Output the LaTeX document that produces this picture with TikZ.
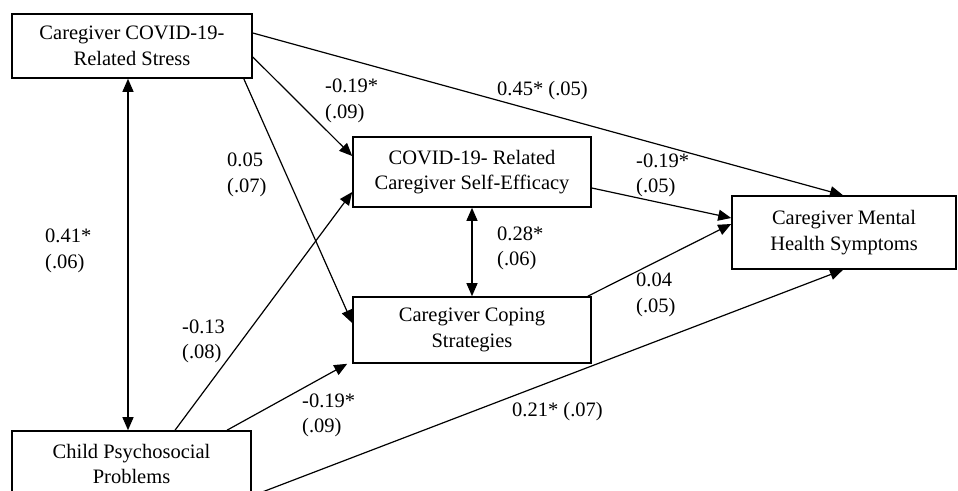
\documentclass[tikz,border=0pt]{standalone}
\usepackage{fontspec}
\setmainfont{Liberation Serif}
\usetikzlibrary{arrows.meta}

\begin{document}
\begin{tikzpicture}[x=1pt,y=-1pt,>={Triangle[length=13pt,width=11pt]},
        box/.style={draw, line width=1.6pt, align=center, inner sep=0pt,
                    font=\fontsize{20.5}{25.5}\selectfont},
        est/.style={align=left, anchor=west, inner sep=0pt,
                    font=\fontsize{20.5}{25.5}\selectfont},
        link/.style={->, line width=1.2pt},
        cov/.style={<->, line width=1.2pt}]
        \useasboundingbox (0,0) rectangle (958,490);
        \clip (0,0) rectangle (958,490);

        % variables
        \node[box, minimum width=240pt, minimum height=64pt] (stress) at (132,46)
             {Caregiver COVID-19-\\Related Stress};
        \node[box, minimum width=238pt, minimum height=70pt] (efficacy) at (472,172)
             {COVID-19- Related\\Caregiver Self-Efficacy};
        \node[box, minimum width=238pt, minimum height=66pt] (coping) at (472,330)
             {Caregiver Coping\\Strategies};
        \node[box, minimum width=224pt, minimum height=73pt] (mental) at (844,232.5)
             {Caregiver Mental\\Health Symptoms};
        \node[box, minimum width=239pt, minimum height=66pt] (child) at (131.5,464)
             {Child Psychosocial\\Problems};

        % paths
        \draw[cov] ([xshift=-4pt]stress.south) -- ([xshift=-3.5pt]child.north);
        \draw[cov] (efficacy.south) -- (coping.north);
        \draw[link] ([yshift=-11pt]stress.east) -- ([yshift=16pt]efficacy.west);
        \draw[link] ([xshift=-9pt]stress.south east) -- ([yshift=7pt]coping.west);
        \draw[link] ([yshift=13pt]stress.east) -- ([xshift=-1pt]mental.north);
        \draw[link] ([xshift=43.5pt]child.north) -- ([yshift=-20pt]efficacy.west);
        \draw[link] ([xshift=95.5pt]child.north) -- ([xshift=-5pt]coping.south west);
        \draw[link] ([yshift=-32pt]child.east) -- ([xshift=-1pt]mental.south);
        \draw[link] ([yshift=-16pt]efficacy.east) -- ([yshift=14.5pt]mental.west);
        \draw[link] ([xshift=-4pt]coping.north east) -- ([yshift=8.5pt]mental.west);

        % estimates
        \node[est] (e1) at (325,101) {-0.19*\\(.09)};
        \node[est] (e2) at (497,91) {0.45* (.05)};
        \node[est] (e3) at (227,175) {0.05\\(.07)};
        \node[est] (e4) at (45,251) {0.41*\\(.06)};
        \node[est] (e5) at (636,175.5) {-0.19*\\(.05)};
        \node[est] (e6) at (497,248.5) {0.28*\\(.06)};
        \node[est] (e7) at (182,341.5) {-0.13\\(.08)};
        \node[est] (e8) at (302,415.5) {-0.19*\\(.09)};
        \node[est] (e9) at (636,295) {0.04\\(.05)};
        \node[est] (e10) at (512,412) {0.21* (.07)};
\end{tikzpicture}
\end{document}
